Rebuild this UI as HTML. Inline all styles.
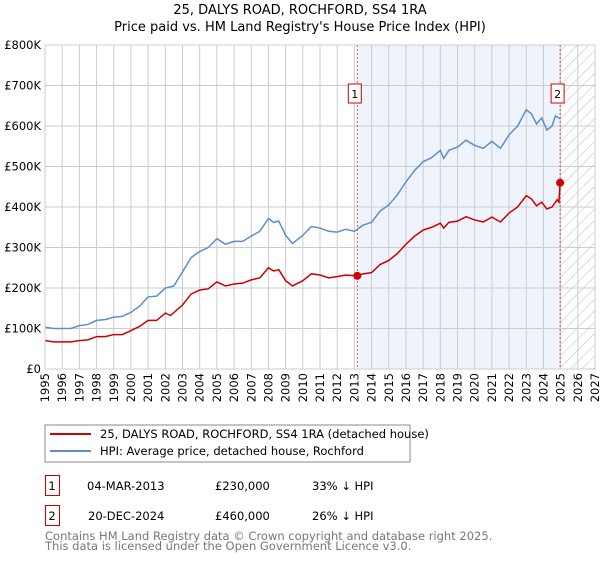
<!DOCTYPE html>
<html><head><meta charset="utf-8"><style>
body{margin:0;background:#fff;font-family:"Liberation Sans","DejaVu Sans",sans-serif;}
svg text{font-family:"DejaVu Sans","Liberation Sans",sans-serif;}
</style></head><body>
<svg width="600" height="560" xmlns="http://www.w3.org/2000/svg">
<defs><pattern id="hatch" width="8" height="8" patternUnits="userSpaceOnUse" patternTransform="rotate(45)"><line x1="0" y1="0" x2="0" y2="8" stroke="#bbb" stroke-width="1"/></pattern></defs>
<text x="300" y="14" text-anchor="middle" font-size="13">25, DALYS ROAD, ROCHFORD, SS4 1RA</text>
<text x="300" y="31" text-anchor="middle" font-size="13">Price paid vs. HM Land Registry's House Price Index (HPI)</text>
<g id="plot"></g>
<g id="legend">
<rect x="45" y="425" width="365" height="37" fill="#fff" stroke="#888"/>
<line x1="50" y1="434" x2="91" y2="434" stroke="#cc0000" stroke-width="2"/>
<text x="100" y="438" font-size="11.5">25, DALYS ROAD, ROCHFORD, SS4 1RA (detached house)</text>
<line x1="50" y1="451" x2="91" y2="451" stroke="#5b8fd0" stroke-width="2"/>
<text x="100" y="455" font-size="11.5">HPI: Average price, detached house, Rochford</text>
</g>
<g font-size="11.5">
<rect x="45.5" y="475.5" width="14" height="20" fill="#fff" stroke="#cc0000"/><text x="52" y="490" text-anchor="middle">1</text>
<text x="87" y="490">04-MAR-2013</text><text x="215" y="490">£230,000</text><text x="312" y="490">33% ↓ HPI</text>
<rect x="45.5" y="505.5" width="14" height="20" fill="#fff" stroke="#cc0000"/><text x="52" y="520" text-anchor="middle">2</text>
<text x="88" y="520">20-DEC-2024</text><text x="215" y="520">£460,000</text><text x="312" y="520">26% ↓ HPI</text>
</g>
<text x="45" y="540" font-size="11.5" fill="#777">Contains HM Land Registry data © Crown copyright and database right 2025.</text>
<text x="45" y="550" font-size="11.5" fill="#777">This data is licensed under the Open Government Licence v3.0.</text>
</svg>
<script>
const hpiYears=[1995,1995.5,1996,1996.5,1997,1997.5,1998,1998.5,1999,1999.5,2000,2000.5,2001,2001.5,2002,2002.5,2003,2003.5,2004,2004.5,2005,2005.5,2006,2006.5,2007,2007.5,2008,2008.3,2008.6,2009,2009.4,2010,2010.5,2011,2011.5,2012,2012.5,2013,2013.5,2014,2014.5,2015,2015.5,2016,2016.5,2017,2017.5,2018,2018.2,2018.5,2019,2019.5,2020,2020.5,2021,2021.5,2022,2022.5,2023,2023.3,2023.6,2023.9,2024.2,2024.5,2024.7,2024.97];
const hpiValues=[103,100,100,100,107,110,120,122,128,130,140,155,178,180,200,205,240,275,290,300,322,308,315,315,328,340,372,362,365,330,310,330,352,348,340,338,345,340,355,362,390,405,430,462,490,512,522,540,520,540,548,565,552,545,562,545,578,600,640,630,605,620,590,600,625,618];
const priceYears=[1995,1995.5,1996.5,1997,1997.5,1998,1998.5,1999,1999.5,2000,2000.5,2001,2001.5,2002,2002.3,2003,2003.5,2004,2004.5,2005,2005.5,2006,2006.5,2007,2007.5,2008,2008.3,2008.6,2009,2009.4,2010,2010.5,2011,2011.5,2012,2012.5,2013.17,2013.5,2014,2014.5,2015,2015.5,2016,2016.5,2017,2017.5,2018,2018.2,2018.5,2019,2019.5,2020,2020.5,2021,2021.5,2022,2022.5,2023,2023.3,2023.6,2023.9,2024.2,2024.5,2024.8,2024.9,2024.97];
const priceValues=[70,67,67,70,72,80,80,85,85,95,105,120,120,138,132,158,185,195,198,215,205,210,212,220,225,250,242,245,218,205,218,235,232,225,228,232,230,235,238,258,268,285,308,328,343,350,360,348,362,365,376,368,363,375,363,385,400,428,420,403,412,395,400,418,412,460];
const saleYears=[2013.17,2024.97];
const saleValues=[230,460];
const saleLabels=["1","2"];
const yTicks=[0,100,200,300,400,500,600,700,800];
const yTickLabels=["£0","£100K","£200K","£300K","£400K","£500K","£600K","£700K","£800K"];
const xTicks=[1995,1996,1997,1998,1999,2000,2001,2002,2003,2004,2005,2006,2007,2008,2009,2010,2011,2012,2013,2014,2015,2016,2017,2018,2019,2020,2021,2022,2023,2024,2025,2026,2027];

const L=45,R=595,T=45,B=369,NS="http://www.w3.org/2000/svg";
const X=y=>L+(y-1995)/(2027-1995)*(R-L);
const Y=v=>B-v/800*(B-T);
const g=document.getElementById('plot');
function mk(t,a,p){const e=document.createElementNS(NS,t);for(const k in a)e.setAttribute(k,a[k]);(p||g).appendChild(e);return e;}
let e;
e=mk('rect',{x:X(saleYears[0]),y:T,width:X(saleYears[1])-X(saleYears[0]),height:B-T,fill:'#eef3fc'});


e=mk('rect',{x:X(2025),y:T,width:R-X(2025),height:B-T,fill:'url(#hatch)'});


yTicks.forEach((v,i)=>{
 e=mk('line',{x1:L,x2:R,y1:Y(v),y2:Y(v),stroke:'#ccc'});
 
 
 e=mk('text',{x:L-4,y:Y(v)+4,'text-anchor':'end','font-size':'11.5'});e.textContent=yTickLabels[i];
 
 
});
xTicks.forEach(yr=>{
 e=mk('line',{x1:X(yr),x2:X(yr),y1:T,y2:B,stroke:'#ccc'});
 
 
 e=mk('text',{x:X(yr)+4,y:B+4,'text-anchor':'end','font-size':'11.5',transform:`rotate(-90 ${X(yr)+4} ${B+4})`});e.textContent=yr;
 
 
});
saleYears.forEach((yr,i)=>{
 e=mk('line',{x1:X(yr),x2:X(yr),y1:T,y2:B,stroke:'#e05050','stroke-dasharray':'2,2'});
 
 
 const bx=X(yr)-6-(i==0?3:3);
 e=mk('rect',{x:bx,y:84,width:13,height:19,fill:'#fff',stroke:'#cc0000'});
 
 
 e=mk('text',{x:bx+6.5,y:98,'text-anchor':'middle','font-size':'11'});e.textContent=saleLabels[i];
 
 
});
e=mk('polyline',{points:hpiYears.map((y,i)=>X(y)+','+Y(hpiValues[i])).join(' '),fill:'none',stroke:'#5b8fd0','stroke-width':1.5});


e=mk('polyline',{points:priceYears.map((y,i)=>X(y)+','+Y(priceValues[i])).join(' '),fill:'none',stroke:'#cc0000','stroke-width':1.5});


saleYears.forEach((yr,i)=>{
 e=mk('circle',{cx:X(yr),cy:Y(saleValues[i]),r:4,fill:'#cc0000'});
 
 
});
e=mk('rect',{x:L,y:T,width:R-L,height:B-T,fill:'none',stroke:'#ccc'});


</script>
</body></html>
